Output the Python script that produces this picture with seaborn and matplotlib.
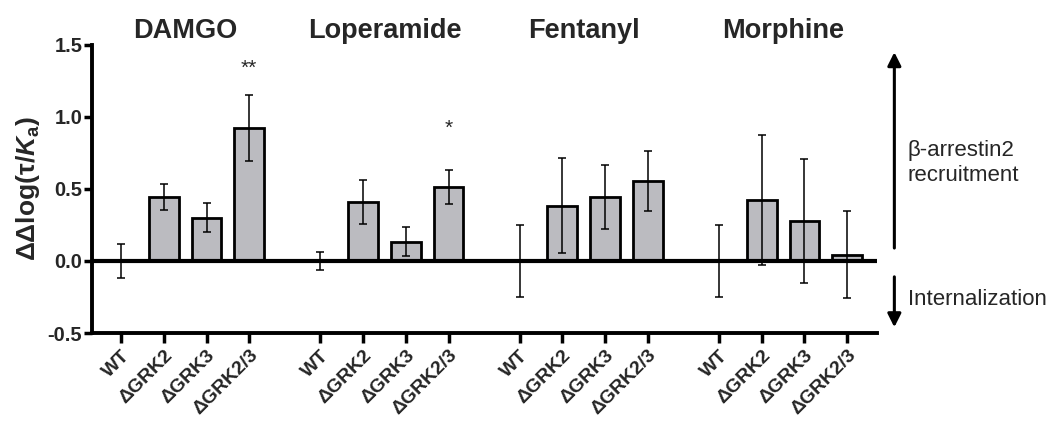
import numpy as np
import pandas as pd
import matplotlib
matplotlib.use("Agg")
import matplotlib.pyplot as plt
import seaborn as sns

# Data
drugs = ["DAMGO", "Loperamide", "Fentanyl", "Morphine"]
variants = ["WT", "ΔGRK2", "ΔGRK3", "ΔGRK2/3"]

damgo_mean = [0.0, 0.445, 0.30, 0.925]
damgo_err = [0.115, 0.09, 0.10, 0.23]
loperamide_mean = [0.0, 0.41, 0.135, 0.515]
loperamide_err = [0.062, 0.155, 0.10, 0.12]
fentanyl_mean = [0.0, 0.385, 0.445, 0.555]
fentanyl_err = [0.25, 0.33, 0.22, 0.21]
morphine_mean = [0.0, 0.425, 0.28, 0.045]
morphine_err = [0.25, 0.45, 0.43, 0.30]

# significance marks: (drug, variant, label, y)
sig_drug = ["DAMGO", "Loperamide"]
sig_variant = ["ΔGRK2/3", "ΔGRK2/3"]
sig_label = ["**", "*"]
sig_y = [1.34, 0.92]

means = [damgo_mean, loperamide_mean, fentanyl_mean, morphine_mean]
errs = [damgo_err, loperamide_err, fentanyl_err, morphine_err]

# layout: bars one unit apart, groups separated by a wider gap
GROUP_STEP = 4 + 2 / 3

rows = []
for g, drug in enumerate(drugs):
    for i, var in enumerate(variants):
        rows.append({"drug": drug, "variant": var,
                     "pos": g * GROUP_STEP + i,
                     "value": means[g][i], "err": errs[g][i]})
df = pd.DataFrame(rows)

sns.set_style("ticks")
plt.rcParams["font.family"] = ["Liberation Sans", "DejaVu Sans"]
plt.rcParams["mathtext.fontset"] = "custom"
plt.rcParams["mathtext.rm"] = "Liberation Sans:bold"
plt.rcParams["mathtext.it"] = "Liberation Sans:bold:italic"
plt.rcParams["mathtext.bf"] = "Liberation Sans:bold"

fig = plt.figure(figsize=(10.58, 4.26), dpi=100)
ax = fig.add_axes([0.087, 0.2183, 0.742, 0.6761])

sns.barplot(data=df, x="pos", y="value", native_scale=True, width=0.7,
            color="#BBBBC0", saturation=1, edgecolor="black", linewidth=2,
            errorbar=None, ax=ax, zorder=2)

ax.errorbar(df["pos"], df["value"], yerr=df["err"], fmt="none",
            ecolor="black", elinewidth=1.1, capsize=3, capthick=1.1, zorder=3)

ax.axhline(0, color="black", lw=3, zorder=4)

ax.set_xlim(-0.68, 3 * GROUP_STEP + 3 + 0.70)
ax.set_ylim(-0.5, 1.5)
ax.set_yticks([-0.5, 0.0, 0.5, 1.0, 1.5])
ax.set_yticklabels(["-0.5", "0.0", "0.5", "1.0", "1.5"],
                   fontsize=14.5, fontweight="bold")
ax.set_xticks(df["pos"])
ax.set_xticklabels(df["variant"], rotation=45, ha="right",
                   rotation_mode="anchor", fontsize=14, fontweight="bold")
ax.tick_params(axis="y", direction="out", length=6, width=2.5,
               color="black", pad=1)
ax.tick_params(axis="x", direction="out", length=7, width=2.5,
               color="black", pad=3)

for side in ["top", "right"]:
    ax.spines[side].set_visible(False)
for side in ["left", "bottom"]:
    ax.spines[side].set_linewidth(2.8)
    ax.spines[side].set_color("black")

ax.set_xlabel("")
ax.set_ylabel(r"ΔΔlog(τ/$K_\mathrm{a}$)", fontsize=19, fontweight="bold",
              labelpad=4)

# drug titles above each group
for g, drug in enumerate(drugs):
    ax.text(g * GROUP_STEP + 1.5, 1.60, drug, ha="center", va="center",
            fontsize=19.5, fontweight="bold", clip_on=False)

# significance stars
for drug, var, lab, y in zip(sig_drug, sig_variant, sig_label, sig_y):
    x = df.loc[(df["drug"] == drug) & (df["variant"] == var), "pos"].iloc[0]
    ax.text(x, y, lab, ha="center", va="center", fontsize=15)

# direction arrows on the right
ax.annotate("", xy=(1.022, 1.45), xytext=(1.022, 0.09),
            xycoords=("axes fraction", "data"),
            arrowprops=dict(arrowstyle="-|>", lw=2.2, color="black",
                            mutation_scale=20, shrinkA=0, shrinkB=0))
ax.annotate("", xy=(1.022, -0.46), xytext=(1.022, -0.11),
            xycoords=("axes fraction", "data"),
            arrowprops=dict(arrowstyle="-|>", lw=2.2, color="black",
                            mutation_scale=20, shrinkA=0, shrinkB=0))
ax.text(1.039, 0.68, "β-arrestin2\nrecruitment", transform=ax.get_yaxis_transform(),
        ha="left", va="center", fontsize=16, linespacing=1.2)
ax.text(1.039, -0.27, "Internalization", transform=ax.get_yaxis_transform(),
        ha="left", va="center", fontsize=16)

fig.savefig("out.png", dpi=100)
